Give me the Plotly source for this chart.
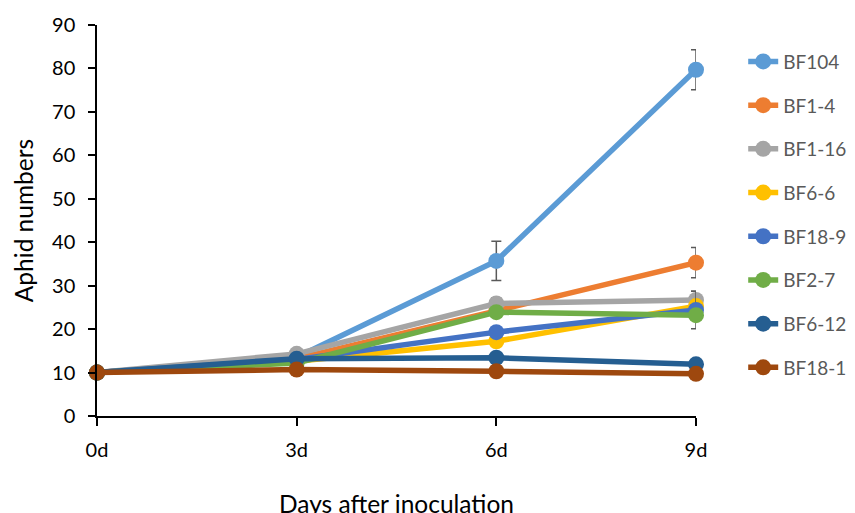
import plotly.graph_objects as go

days = [0, 3, 6, 9]
day_labels = ["0d", "3d", "6d", "9d"]

names = ["BF104", "BF1-4", "BF1-16", "BF6-6", "BF18-9", "BF2-7", "BF6-12", "BF18-1"]
bf104 = [10, 13.5, 35.7, 79.7]
bf1_4 = [10, 13.2, 24.2, 35.3]
bf1_16 = [10, 14.3, 25.9, 26.7]
bf6_6 = [10, 12.6, 17.2, 25.3]
bf18_9 = [10, 13.0, 19.3, 24.4]
bf2_7 = [10, 12.2, 23.9, 23.2]
bf6_12 = [10, 13.2, 13.4, 11.9]
bf18_1 = [10, 10.7, 10.3, 9.7]

err104 = [0, 0, 4.5, 4.6]
err1_4 = [0, 0, 0, 3.5]
err1_16 = [0, 0, 1.3, 2.0]
err6_6 = [0, 0, 0, 0]
err18_9 = [0, 0, 0, 4.3]
err2_7 = [0, 0, 0, 0]
err6_12 = [0, 0, 0, 0]
err18_1 = [0, 0, 0, 0]

series = [bf104, bf1_4, bf1_16, bf6_6, bf18_9, bf2_7, bf6_12, bf18_1]
errors = [err104, err1_4, err1_16, err6_6, err18_9, err2_7, err6_12, err18_1]
colors = ["#5B9BD5", "#ED7D31", "#A5A5A5", "#FFC000", "#4472C4", "#70AD47", "#255E91", "#9E480E"]

fig = go.Figure()
for name, vals, err, col in zip(names, series, errors, colors):
    fig.add_trace(go.Scatter(
        x=days, y=vals, name=name, mode="lines+markers",
        legendgroup=name,
        line=dict(color=col, width=5.5),
        marker=dict(color=col, size=16),
        error_y=dict(type="data", array=err, visible=True, color="#595959",
                     thickness=1.5, width=5),
        cliponaxis=False,
    ))

font_family = "Lato, 'Open Sans', sans-serif"
fig.update_layout(
    width=855, height=513,
    margin=dict(l=89, r=166, t=17, b=105),
    plot_bgcolor="white", paper_bgcolor="white",
    font=dict(family=font_family, size=20, color="black"),
    legend=dict(x=1.077, y=0.955, xanchor="left", yanchor="top",
                font=dict(size=19, color="#595959"),
                traceorder="grouped", tracegroupgap=16, maxheight=1.0,
                bgcolor="rgba(0,0,0,0)"),
    xaxis=dict(
        range=[0, 9], tickvals=days, ticktext=day_labels,
        showline=True, linecolor="black", linewidth=1.5,
        ticks="outside", ticklen=8, tickcolor="black", tickwidth=1.5,
        showgrid=False, zeroline=False, automargin=False,
        tickfont=dict(size=20), ticklabelstandoff=7,
        title=dict(text="Days after inoculation", font=dict(size=24.5), standoff=36),
    ),
    yaxis=dict(
        range=[0, 90], dtick=10,
        showline=True, linecolor="black", linewidth=1.5,
        ticks="outside", ticklen=7, tickcolor="black", tickwidth=1.5,
        showgrid=False, zeroline=False, automargin=False,
        tickfont=dict(size=20), ticklabelstandoff=9,
        title=dict(text="Aphid numbers", font=dict(size=24.5), standoff=11),
    ),
)

fig.write_html("out.html")
